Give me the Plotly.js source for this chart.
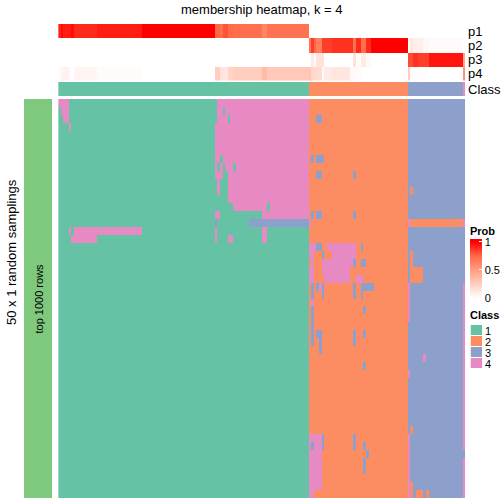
<!DOCTYPE html>
<html><head><meta charset="utf-8">
<script src="https://cdn.plot.ly/plotly-3.0.1.min.js"></script>
<style>html,body{margin:0;padding:0;background:#fff}</style>
</head><body><div id="chart" style="width:504px;height:504px"></div>
<script>
// Runs are written "value>endColumn": the value fills the columns up to endColumn.
const stripNames = ["p1","p2","p3","p4"];
const p1Runs = ".92>1 .97>2 .93>5 .97>6 .9>15 .93>32 1>60 .75>62 .72>63 .8>65 .74>67 .72>78 .62>80 .7>96 0>156";
const p2Runs = "0>96 .7>97 .85>98 .75>99 .65>101 .85>105 .88>113 .7>114 .9>116 .72>118 .9>120 1>134 0>135 .12>136 .08>140 .04>142 .02>155 0>156";
const p3Runs = "0>97 .1>98 .02>99 .15>102 0>113 .15>114 .01>116 .1>118 .03>120 0>134 .82>136 .88>138 .85>142 .95>155 .45>156";
const p4Runs = ".02>1 .05>2 .07>4 .02>5 0>6 .05>15 .02>32 0>60 .25>62 .15>63 .12>65 .22>67 .25>78 .35>80 .28>96 .3>97 .2>99 .18>101 .02>102 .1>105 .13>112 .03>114 .02>117 0>134 .25>135 .01>142 0>155 .55>156";
const classRuns = "1>96 2>134 3>155 4>156";
const sampleRows = [
"4>4 1>61 4>96 2>134 3>156",
"1>1 4>4 1>61 4>63 1>64 4>96 2>134 3>156",
"1>2 4>4 1>61 4>65 1>66 4>96 2>99 3>101 2>134 3>156",
"1>4 4>5 1>60 4>96 2>134 3>156",
"1>60 4>96 2>134 3>156",
"1>60 4>96 2>134 3>156",
"1>60 4>96 2>134 3>156",
"1>60 4>62 1>63 4>96 2>97 3>98 2>99 3>102 2>134 3>156",
"1>60 4>61 1>62 4>63 1>64 4>67 1>68 4>96 2>134 3>156",
"1>60 4>63 1>65 4>96 2>99 3>101 2>113 3>114 2>134 3>156",
"1>61 4>62 1>65 4>96 2>134 3>156",
"1>61 4>62 1>65 4>96 2>134 3>135 2>136 3>156",
"1>65 4>96 2>134 3>156",
"1>67 4>80 1>81 4>96 2>134 3>156",
"1>60 4>62 1>78 4>96 2>97 3>98 2>99 3>101 2>113 3>114 2>134 3>156",
"1>60 3>61 1>73 3>96 4>97 2>134 4>135 2>155 4>156",
"1>4 4>5 1>6 4>32 1>60 4>61 1>78 4>80 1>96 2>134 3>156",
"1>5 4>15 1>60 4>61 1>65 4>67 1>78 4>80 1>96 2>134 3>156",
"1>96 4>99 3>101 2>103 4>114 2>116 3>117 2>134 3>156",
"1>96 4>98 2>101 3>102 2>105 4>114 2>134 3>135 2>136 3>156",
"1>96 2>97 4>98 2>101 4>113 3>114 2>116 3>118 2>134 3>135 2>136 3>156",
"1>96 4>98 2>101 4>112 2>134 3>135 2>140 3>156",
"1>96 4>98 2>102 4>112 2>114 4>117 2>134 3>135 2>140 3>156",
"1>96 2>97 3>98 2>99 3>100 4>101 3>102 2>113 3>114 2>116 3>121 2>134 4>135 3>155 4>156",
"1>96 2>97 3>98 2>101 3>102 2>113 3>114 2>116 3>117 2>134 4>135 3>155 4>156",
"1>96 2>97 4>98 2>134 4>135 3>155 4>156",
"1>96 2>97 3>98 2>117 3>118 2>134 4>135 3>155 4>156",
"1>96 2>97 3>98 2>134 4>135 3>155 4>156",
"1>96 2>97 3>98 2>134 3>155 4>156",
"1>96 2>97 3>98 2>99 3>101 2>113 3>114 2>117 3>118 2>134 3>155 4>156",
"1>96 2>97 3>98 2>100 3>101 2>113 3>114 2>134 3>155 4>156",
"1>96 2>100 3>101 2>134 3>155 4>156",
"1>96 2>134 3>140 4>141 3>155 4>156",
"1>96 2>117 3>118 2>134 3>155 4>156",
"1>96 2>134 4>135 3>155 4>156",
"1>96 2>134 3>155 4>156",
"1>96 2>134 3>155 4>156",
"1>96 2>134 3>155 4>156",
"1>96 2>134 3>155 4>156",
"1>96 2>134 3>155 4>156",
"1>96 2>134 3>155 4>156",
"1>96 2>134 3>135 2>136 3>155 4>156",
"1>96 4>101 3>102 2>113 3>114 2>134 4>135 3>155 4>156",
"1>96 4>97 3>98 4>101 3>102 2>113 3>114 2>117 3>118 2>134 4>135 3>155 4>156",
"1>96 4>101 2>118 3>119 2>134 4>135 3>156",
"1>96 4>101 2>117 3>118 2>134 4>135 3>155 4>156",
"1>96 4>101 2>117 3>118 2>134 4>135 3>155 4>156",
"1>96 4>101 2>134 4>135 3>155 4>156",
"1>96 4>101 2>134 4>135 2>136 3>155 4>156",
"1>96 4>98 2>134 4>135 2>136 3>137 2>140 3>141 2>142 3>155 4>156"
];
const classLabels = ["1","2","3","4"];
const classColors = ["#66C2A5","#FC8D62","#8DA0CB","#E78AC3"];
const sideColor = "#7FC97F";

const expand = s => { const out = []; s.split(" ").forEach(r => { const [v,e] = r.split(">"); while (out.length < +e) out.push(+v); }); return out; };
const W = 504;
const xd = (a,b) => [a/W, b/W];
const yd = (top,bot) => [1-bot/W, 1-top/W];

const classScale = []; classColors.forEach((c,i)=>{classScale.push([i/4,c],[(i+1)/4,c]);});
const PMAX = 1.05, k = 1/PMAX;
const probScale = [[0,"#FFFFFF"],[.25*k,"#FFCEBF"],[.5*k,"#FF9E81"],[.75*k,"#FF6846"],[k,"#FF0000"],[1,"#FF0000"]];

const hm = (z,xa,ya,extra) => Object.assign({type:"heatmap",z,xaxis:xa,yaxis:ya,showscale:false,hoverinfo:"skip",xgap:0,ygap:0},extra);
const cls = {colorscale:classScale,zmin:.5,zmax:4.5};

const data = [
  hm(sampleRows.map(expand),"x","y",cls),
  hm([p1Runs,p2Runs,p3Runs,p4Runs].map(expand),"x2","y2",{
    colorscale:probScale,zmin:0,zmax:PMAX,showscale:true,
    colorbar:{thickness:12,thicknessmode:"pixels",len:59/W,lenmode:"fraction",
      x:470/W,xanchor:"left",y:1-239/W,yanchor:"top",xpad:0,ypad:0,
      outlinewidth:0,borderwidth:0,tickmode:"array",tickvals:[0,.5,1],ticktext:["0","0.5","1"],
      ticks:"inside",ticklen:3,tickwidth:1,tickcolor:"#ffffff",
      tickfont:{family:"Liberation Sans",size:11,color:"#000"}}
  }),
  hm([expand(classRuns)],"x3","y3",cls),
  hm([[1]],"x4","y4",{colorscale:[[0,sideColor],[1,sideColor]],zmin:0,zmax:2}),
  hm(classLabels.map(c=>[+c]),"x5","y5",Object.assign({ygap:1},cls))
];

const ax = (domain,extra) => Object.assign({domain,showgrid:false,zeroline:false,showticklabels:false,ticks:"",showline:false,fixedrange:true},extra);
const colRange = {range:[-.5,155.5]};
const L = 58.2, R = 465.2;
const layout = {
  width:504,height:504,margin:{l:0,r:0,t:0,b:0,pad:0},paper_bgcolor:"#fff",plot_bgcolor:"#fff",
  showlegend:false,
  xaxis:ax(xd(L,R),colRange), yaxis:ax(yd(99,498),{range:[49.5,-.5]}),
  xaxis2:ax(xd(L,R),colRange), yaxis2:ax(yd(24,80.5),{range:[3.5,-.5]}),
  xaxis3:ax(xd(L,R),colRange), yaxis3:ax(yd(82,96),{range:[.5,-.5]}),
  xaxis4:ax(xd(24,52),{range:[-.5,.5]}), yaxis4:ax(yd(99,498),{range:[.5,-.5]}),
  xaxis5:ax(xd(470.5,482),{range:[-.5,.5]}), yaxis5:ax(yd(325,369),{range:[3.5,-.5]}),
  annotations:[]
};
const F = "Liberation Sans";
const txt = (text,x,y,size,o) => layout.annotations.push(Object.assign({text,x:x/W,y:1-y/W,xref:"paper",yref:"paper",showarrow:false,
  font:{family:F,size,color:"#000"},xanchor:"left",yanchor:"middle",borderpad:0,borderwidth:0},o||{}));
txt("membership heatmap, k = 4",262,9,13,{xanchor:"center"});
stripNames.forEach((n,i)=>txt(n,467.5,31+14*i,13));
txt("Class",467.5,89,13);
txt("50 x 1 random samplings",11,252,13,{textangle:-90,xanchor:"center"});
txt("top 1000 rows",38,298.5,11,{textangle:-90,xanchor:"center"});
txt("<b>Prob</b>",470,231,11);
txt("<b>Class</b>",470,315,11);
classLabels.forEach((c,i)=>txt(c,485,330.5+11*i,11));
Plotly.newPlot("chart",data,layout,{staticPlot:true,displayModeBar:false});
</script></body></html>
